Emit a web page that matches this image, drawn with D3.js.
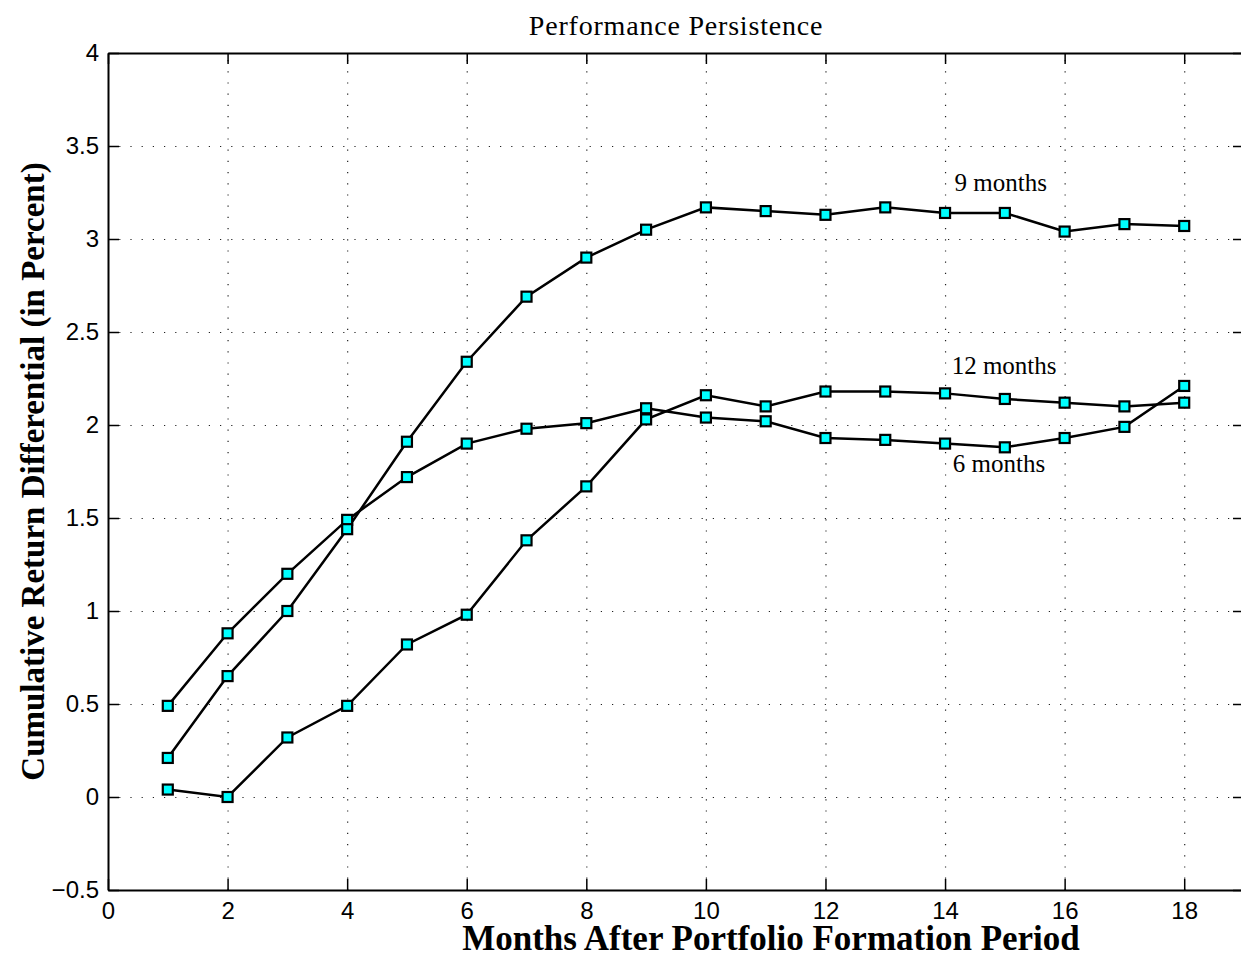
<!DOCTYPE html>
<html>
<head>
<meta charset="utf-8">
<script src="https://cdn.jsdelivr.net/npm/d3@7"></script>
<style>
  body { margin: 0; background: #fff; }
  svg { display: block; }
</style>
</head>
<body>
<svg id="chart" width="1241" height="955"></svg>
<script>
const width = 1241;
const height = 955;

// months after formation
const months = [1, 2, 3, 4, 5, 6, 7, 8, 9, 10, 11, 12, 13, 14, 15, 16, 17, 18];

// cumulative return differential, percent
const sixMonths = [0.49, 0.88, 1.20, 1.49, 1.72, 1.90, 1.98, 2.01, 2.09, 2.04, 2.02, 1.93, 1.92, 1.90, 1.88, 1.93, 1.99, 2.21];
const nineMonths = [0.21, 0.65, 1.00, 1.44, 1.91, 2.34, 2.69, 2.90, 3.05, 3.17, 3.15, 3.13, 3.17, 3.14, 3.14, 3.04, 3.08, 3.07];
const twelveMonths = [0.04, 0.00, 0.32, 0.49, 0.82, 0.98, 1.38, 1.67, 2.03, 2.16, 2.10, 2.18, 2.18, 2.17, 2.14, 2.12, 2.10, 2.12];

const seriesNames = ["6 months", "9 months", "12 months"];
const seriesValues = [sixMonths, nineMonths, twelveMonths];

// where the series names are written (data units)
const labelX = [14.13, 14.16, 14.11];
const labelY = [1.745, 3.26, 2.275];

const xTicks = [0, 2, 4, 6, 8, 10, 12, 14, 16, 18];
const yTicks = [-0.5, 0, 0.5, 1, 1.5, 2, 2.5, 3, 3.5, 4];

const margin = { top: 53, right: -3, bottom: 65, left: 108 };
const plotW = width - margin.left - margin.right;
const plotH = height - margin.top - margin.bottom;

const serif = "'Liberation Serif', 'Times New Roman', serif";

const svg = d3.select("#chart");

const x = d3.scaleLinear().domain([0, 19]).range([0, plotW]);
const y = d3.scaleLinear().domain([-0.5, 4]).range([plotH, 0]);

const g = svg.append("g")
  .attr("transform", `translate(${margin.left},${margin.top})`);

// dotted grid
g.append("g")
  .attr("class", "grid")
  .attr("transform", `translate(0,${plotH})`)
  .call(d3.axisBottom(x).tickValues(xTicks.slice(1)).tickSize(-plotH).tickFormat(""))
  .call(a => a.select(".domain").remove());

g.append("g")
  .attr("class", "grid")
  .call(d3.axisLeft(y).tickValues(yTicks.slice(1, -1)).tickSize(-plotW).tickFormat(""))
  .call(a => a.select(".domain").remove());

g.selectAll(".grid line")
  .attr("stroke", "#222")
  .attr("stroke-width", 1.2)
  .attr("stroke-dasharray", "1.2,10");

// axes with inward ticks
g.append("g")
  .attr("transform", `translate(0,${plotH})`)
  .call(d3.axisBottom(x).tickValues(xTicks).tickSizeInner(-11).tickSizeOuter(0).tickPadding(12));

g.append("g")
  .call(d3.axisLeft(y).tickValues(yTicks).tickSizeInner(-11).tickSizeOuter(0).tickPadding(9)
    .tickFormat(d => d < 0 ? "\u2212" + Math.abs(d) : d));

g.append("g")
  .call(d3.axisTop(x).tickValues(xTicks).tickSizeInner(-11).tickSizeOuter(0).tickFormat(""));

g.append("g")
  .attr("transform", `translate(${plotW},0)`)
  .call(d3.axisRight(y).tickValues(yTicks).tickSizeInner(-11).tickSizeOuter(0).tickFormat(""));

g.selectAll(".domain").attr("stroke", "#000").attr("stroke-width", 2);
g.selectAll(".tick line").filter(function() { return !this.closest(".grid"); })
  .attr("stroke", "#000").attr("stroke-width", 1.5);

g.selectAll(".tick text")
  .attr("fill", "#000")
  .style("font-family", "'Liberation Sans', Arial, sans-serif")
  .style("font-size", "24px");

// lines
const line = d3.line()
  .x((d, i) => x(months[i]))
  .y(d => y(d));

seriesValues.forEach(vals => {
  g.append("path")
    .datum(vals)
    .attr("fill", "none")
    .attr("stroke", "#000")
    .attr("stroke-width", 2.5)
    .attr("d", line);
});

seriesValues.forEach(vals => {
  g.append("g")
    .selectAll("rect")
    .data(vals)
    .join("rect")
    .attr("x", (d, i) => x(months[i]) - 5)
    .attr("y", d => y(d) - 5)
    .attr("width", 10)
    .attr("height", 10)
    .attr("fill", "#00ffff")
    .attr("stroke", "#000")
    .attr("stroke-width", 2.2);
});

// series names
g.selectAll(".series-label")
  .data(seriesNames)
  .join("text")
  .attr("class", "series-label")
  .attr("x", (d, i) => x(labelX[i]))
  .attr("y", (d, i) => y(labelY[i]))
  .style("font-family", serif)
  .style("font-size", "25px")
  .text(d => d);

// titles
svg.append("text")
  .attr("x", margin.left + plotW / 2)
  .attr("y", 35)
  .attr("text-anchor", "middle")
  .style("font-family", serif)
  .style("font-size", "28px")
  .style("letter-spacing", "0.8px")
  .text("Performance Persistence");

svg.append("text")
  .attr("x", 771)
  .attr("y", 950)
  .attr("text-anchor", "middle")
  .style("font-family", serif)
  .style("font-size", "35px")
  .style("font-weight", "bold")
  .text("Months After Portfolio Formation Period");

svg.append("text")
  .attr("transform", `translate(44,${margin.top + plotH / 2}) rotate(-90)`)
  .attr("text-anchor", "middle")
  .style("font-family", serif)
  .style("font-size", "33px")
  .style("font-weight", "bold")
  .text("Cumulative Return Differential (in Percent)");
</script>
</body>
</html>
